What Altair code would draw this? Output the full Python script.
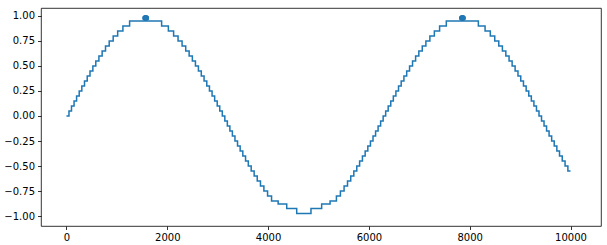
import altair as alt
import pandas as pd

# Step breakpoints (x where the level changes) and the held level values
step_x = [
    0, 50, 100, 151, 201, 253, 305, 358, 412, 467, 524, 582, 644, 708, 775, 848, 927, 1016, 1120, 1253,
    1888, 2022, 2126, 2214, 2294, 2366, 2434, 2498, 2559, 2618, 2675, 2730, 2784, 2837, 2889, 2940, 2991,
    3041, 3092, 3142, 3192, 3242, 3292, 3343, 3394, 3446, 3499, 3553, 3608, 3665, 3724, 3785, 3849, 3917,
    3990, 4069, 4200, 4370, 4568,
    4851, 5063, 5230, 5356, 5435, 5508, 5576, 5640, 5701, 5760, 5816, 5872, 5926, 5979, 6031, 6082, 6133,
    6183, 6233, 6283, 6333, 6383, 6434, 6485, 6536, 6588, 6641, 6695, 6750, 6807, 6866, 6927, 6991, 7059,
    7131, 7210, 7299, 7403, 7536,
    8172, 8305, 8409, 8497, 8577, 8649, 8717, 8781, 8842, 8901, 8958, 9013, 9067, 9120, 9172, 9223, 9274,
    9325, 9375, 9425, 9475, 9525, 9575, 9626, 9677, 9729, 9782, 9836, 9892, 9948, 10000,
]
step_y = [
    0.00, 0.05, 0.10, 0.15, 0.20, 0.25, 0.30, 0.35, 0.40, 0.45, 0.50, 0.55, 0.60, 0.65, 0.70, 0.75, 0.80,
    0.85, 0.90, 0.95,
    0.90, 0.85, 0.80, 0.75, 0.70, 0.65, 0.60, 0.55, 0.50, 0.45, 0.40, 0.35, 0.30, 0.25, 0.20, 0.15, 0.10,
    0.05, 0.00, -0.05, -0.10, -0.15, -0.20, -0.25, -0.30, -0.35, -0.40, -0.45, -0.50, -0.55, -0.60, -0.65,
    -0.70, -0.75, -0.80, -0.85, -0.88, -0.925, -0.975,
    -0.925, -0.88, -0.85, -0.80, -0.75, -0.70, -0.65, -0.60, -0.55, -0.50, -0.45, -0.40, -0.35, -0.30,
    -0.25, -0.20, -0.15, -0.10, -0.05, 0.00, 0.05, 0.10, 0.15, 0.20, 0.25, 0.30, 0.35, 0.40, 0.45, 0.50,
    0.55, 0.60, 0.65, 0.70, 0.75, 0.80, 0.85, 0.90, 0.95,
    0.90, 0.85, 0.80, 0.75, 0.70, 0.65, 0.60, 0.55, 0.50, 0.45, 0.40, 0.35, 0.30, 0.25, 0.20, 0.15, 0.10,
    0.05, 0.00, -0.05, -0.10, -0.15, -0.20, -0.25, -0.30, -0.35, -0.40, -0.45, -0.50, -0.55, -0.55,
]

# Peak markers
peak_x = [1556, 1564, 1572, 1580, 1588, 7840, 7848, 7856, 7864, 7872]
peak_y = [0.98, 0.98, 0.98, 0.98, 0.98, 0.98, 0.98, 0.98, 0.98, 0.98]

x_ticks = [0, 2000, 4000, 6000, 8000, 10000]
y_ticks = [-1.0, -0.75, -0.5, -0.25, 0.0, 0.25, 0.5, 0.75, 1.0]

steps = pd.DataFrame({"x": step_x, "y": step_y})
peaks = pd.DataFrame({"x": peak_x, "y": peak_y})

C = "#1f77b4"
FONT = "DejaVu Sans"

xscale = alt.Scale(domain=[-505, 10605], nice=False, zero=False)
yscale = alt.Scale(domain=[-1.099, 1.079], nice=False, zero=False)

xaxis = alt.Axis(values=x_ticks, title=None, grid=False, domain=False, tickSize=3.5,
                 tickColor="black", tickWidth=0.8, labelPadding=3, labelFont=FONT,
                 labelFontSize=10, labelColor="black", format="d", labelOverlap=False)
yaxis = alt.Axis(values=y_ticks, title=None, grid=False, domain=False, tickSize=3.5,
                 tickColor="black", tickWidth=0.8, labelPadding=3, labelFont=FONT,
                 labelFontSize=10, labelColor="black", format=".2f", labelOverlap=False,
                 labelSeparation=0, labelBound=False)

line = alt.Chart(steps).mark_line(color=C, strokeWidth=1.5, interpolate="step-after").encode(
    x=alt.X("x:Q", scale=xscale, axis=xaxis),
    y=alt.Y("y:Q", scale=yscale, axis=yaxis),
)
pts = alt.Chart(peaks).mark_point(filled=True, color=C, size=28, opacity=1).encode(
    x=alt.X("x:Q", scale=xscale, axis=xaxis),
    y=alt.Y("y:Q", scale=yscale, axis=yaxis),
)

chart = (line + pts).properties(
    width=560, height=218,
    padding={"left": 41, "top": 8, "right": 6, "bottom": 19},
    autosize=alt.AutoSizeParams(type="none"),
    background="white",
).configure_view(stroke="black", strokeWidth=0.8).configure_axis(labelOverlap=False)

chart.save("out.html", embed_options={"renderer": "svg", "actions": False})
